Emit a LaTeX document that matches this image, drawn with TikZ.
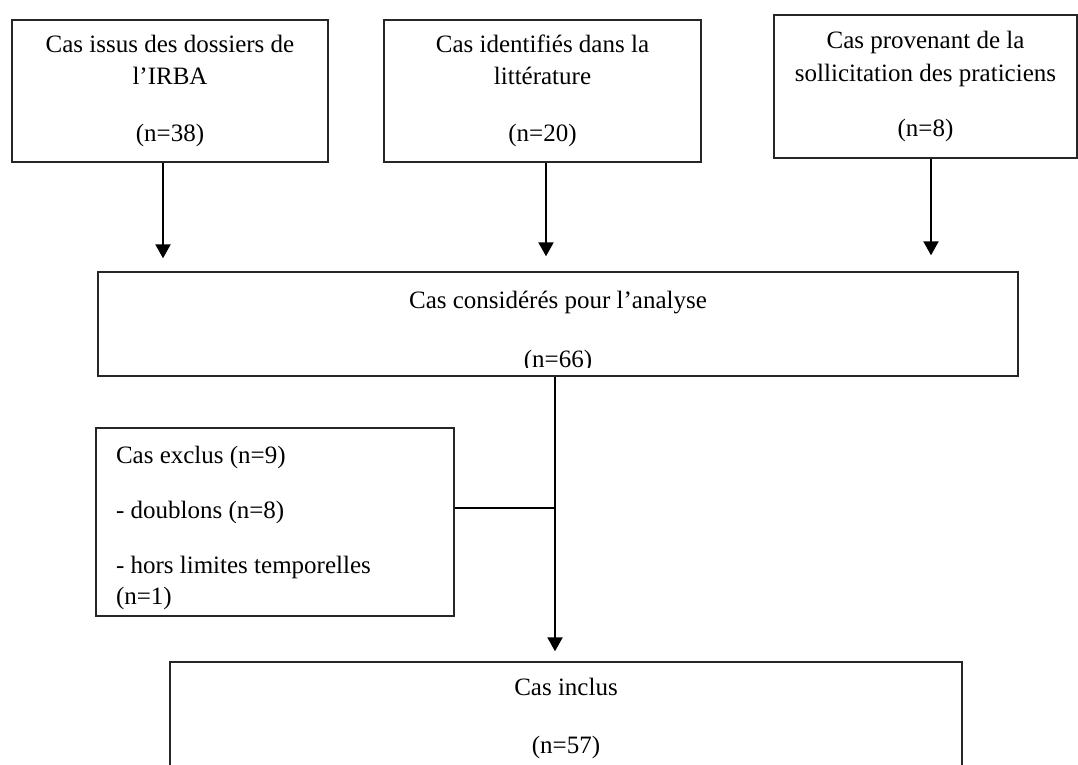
\documentclass[tikz,border=0pt]{standalone}
\usepackage{fontspec}
\setmainfont{Liberation Serif}
\usetikzlibrary{arrows.meta}

\begin{document}
\begin{tikzpicture}[x=1pt, y=-1pt, >={Triangle[length=14pt,width=15pt]},
    box/.style={draw=black!85, line width=1.4pt, rectangle, inner sep=0pt, align=center, font=\fontsize{25}{31}\selectfont},
    link/.style={line width=2.2pt}]
    % Selection des cas : trois sources -> analyse -> inclus
    \useasboundingbox (0,0) rectangle (1078,765);

    \node (irba) at (170,91) [box, minimum width=316, minimum height=142] {Cas issus des dossiers de\\[1pt]l’IRBA\\[26pt](n=38)};
    \node (litt) at (542.5,91) [box, minimum width=317, minimum height=142] {Cas identifiés dans la\\[1pt]littérature\\[26pt](n=20)};
    \node (prat) at (925.5,86.5) [box, minimum width=303, minimum height=143] {Cas provenant de la\\[2pt]sollicitation des praticiens\\[24pt](n=8)};

    \node (pool) at (558,324) [box, minimum width=920, minimum height=104] {};
    \begin{scope}
        \clip (pool.north west) rectangle ([yshift=9.5pt]pool.south east);
        \node (pooltxt) at (pool.center) [box, draw=none, yshift=-8pt] {Cas considérés pour l’analyse\\[28pt](n=66)};
    \end{scope}

    \node (excl) at (275,522) [box, minimum width=358, minimum height=188] {};
    \node (excltxt) at ([xshift=20pt, yshift=-18pt]excl.north west) [box, draw=none, anchor=north west, align=flush left] {Cas exclus (n=9)\\[24pt]- doublons (n=8)\\[24pt]- hors limites temporelles\\(n=1)};
    \node (incl) at (566,718) [box, minimum width=792, minimum height=112] {Cas inclus\\[27pt](n=57)};

    \coordinate (jn) at (555,508);

    \draw [->, link, shorten >=13pt] ([xshift=-7pt]irba.south) -- ([xshift=-7pt]irba.south |- pool.north);
    \draw [->, link, shorten >=15pt] ([xshift=3.5pt]litt.south) -- ([xshift=3.5pt]litt.south |- pool.north);
    \draw [->, link, shorten >=16pt] ([xshift=5.5pt]prat.south) -- ([xshift=5.5pt]prat.south |- pool.north);

    \draw [->, link, shorten >=10pt] (pool.south -| jn) -- (incl.north -| jn);
    \draw [link] (excl.east |- jn) -- (jn);
\end{tikzpicture}
\end{document}
